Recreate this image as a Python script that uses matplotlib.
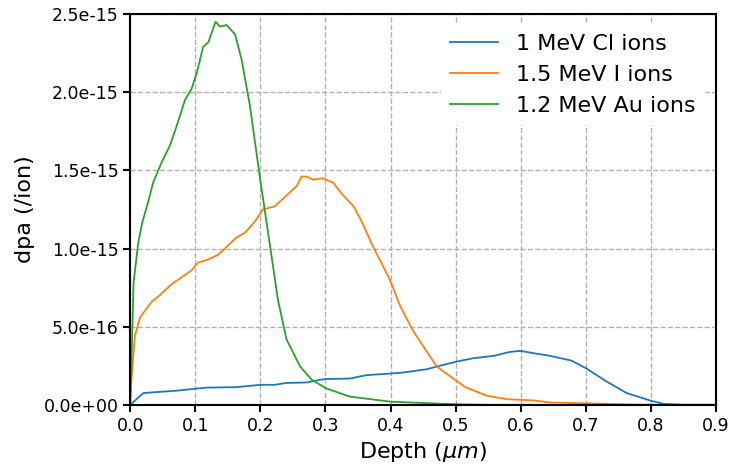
import numpy as np
import matplotlib.pyplot as plt

# dpa profiles
depth_cl = [0.0, 0.02, 0.035, 0.07, 0.117, 0.163, 0.2, 0.222, 0.24, 0.271, 0.292,
            0.3, 0.337, 0.363, 0.4, 0.42, 0.456, 0.476, 0.502, 0.527, 0.558,
            0.584, 0.6, 0.62, 0.643, 0.678, 0.70, 0.732, 0.763, 0.8, 0.82, 0.85, 0.9]
dpa_cl = [0.0, 0.075, 0.08, 0.09, 0.11, 0.113, 0.128, 0.128, 0.14, 0.143, 0.16,
          0.165, 0.168, 0.19, 0.20, 0.207, 0.228, 0.25, 0.277, 0.298, 0.313,
          0.339, 0.345, 0.33, 0.315, 0.283, 0.235, 0.149, 0.075, 0.026, 0.006, 0.0, 0.0]

depth_i = [0.0, 0.007, 0.015, 0.033, 0.045, 0.063, 0.094, 0.104, 0.12, 0.135,
           0.148, 0.163, 0.176, 0.191, 0.204, 0.222, 0.235, 0.256, 0.263, 0.271,
           0.281, 0.296, 0.312, 0.325, 0.343, 0.356, 0.371, 0.399, 0.415, 0.435,
           0.471, 0.499, 0.515, 0.548, 0.579, 0.62, 0.645, 0.696, 0.77, 0.8, 0.9]
dpa_i = [0.06, 0.44, 0.56, 0.66, 0.70, 0.77, 0.86, 0.91, 0.93, 0.96,
         1.01, 1.07, 1.10, 1.17, 1.25, 1.27, 1.32, 1.40, 1.46, 1.46,
         1.44, 1.45, 1.42, 1.35, 1.27, 1.17, 1.03, 0.80, 0.63, 0.47,
         0.245, 0.16, 0.113, 0.058, 0.036, 0.028, 0.015, 0.01, 0.002, 0.0, 0.0]

depth_au = [0.0, 0.005, 0.012, 0.018, 0.027, 0.035, 0.048, 0.061, 0.071, 0.084,
            0.094, 0.102, 0.112, 0.12, 0.131, 0.138, 0.148, 0.161, 0.171, 0.184,
            0.199, 0.215, 0.227, 0.24, 0.261, 0.279, 0.3, 0.337, 0.4, 0.49, 0.55, 0.9]
dpa_au = [0.0, 0.78, 1.03, 1.16, 1.29, 1.42, 1.55, 1.66, 1.78, 1.95,
          2.02, 2.12, 2.29, 2.32, 2.45, 2.42, 2.43, 2.37, 2.21, 1.91,
          1.46, 1.01, 0.67, 0.42, 0.245, 0.16, 0.107, 0.053, 0.02, 0.005, 0.0, 0.0]

fig = plt.figure(figsize=(7.32, 4.68), dpi=100)
ax = fig.add_axes([0.178, 0.135, 0.800, 0.835])

ax.plot(depth_cl, np.array(dpa_cl) * 1e-15, color='#1f77b4', lw=1.3, label='1 MeV Cl ions')
ax.plot(depth_i, np.array(dpa_i) * 1e-15, color='#ff7f0e', lw=1.3, label='1.5 MeV I ions')
ax.plot(depth_au, np.array(dpa_au) * 1e-15, color='#2ca02c', lw=1.3, label='1.2 MeV Au ions')

ax.set_xlim(0, 0.9)
ax.set_ylim(0, 2.5e-15)
ax.set_xticks(np.arange(0, 0.91, 0.1))
ax.set_yticks(np.arange(0, 2.51e-15, 0.5e-15))
ax.set_yticklabels(['%.1e' % v for v in np.arange(0, 2.51e-15, 0.5e-15)])
ax.tick_params(labelsize=12.5, width=1.5, length=5)
for s in ax.spines.values():
    s.set_linewidth(1.5)
ax.grid(True, ls='--', color='#b0b0b0', lw=1)
ax.set_xlabel(r'Depth ($\mu m$)', fontsize=16)
ax.set_ylabel('dpa (/ion)', fontsize=16, labelpad=6)
leg = ax.legend(fontsize=16, loc='upper right', framealpha=1, edgecolor='none',
                fancybox=False, handlelength=2.2)

plt.savefig('out.png', dpi=100)
